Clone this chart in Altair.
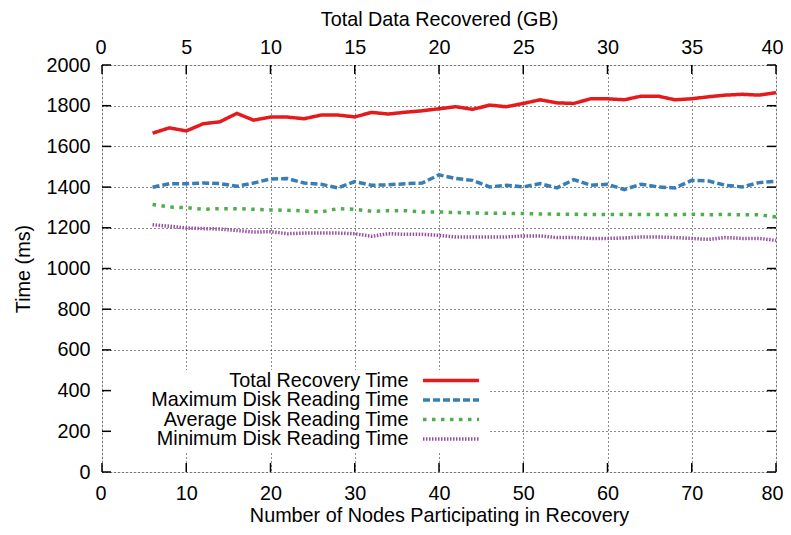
import altair as alt
import pandas as pd

# ---------------- data ----------------
nodes = [6, 8, 10, 12, 14, 16, 18, 20, 22, 24, 26, 28, 30, 32, 34, 36, 38, 40,
         42, 44, 46, 48, 50, 52, 54, 56, 58, 60, 62, 64, 66, 68, 70, 72, 74, 76, 78, 80]

total_recovery = [1665, 1691, 1676, 1711, 1721, 1762, 1729, 1744, 1744, 1736, 1754, 1754, 1745, 1767, 1759, 1768, 1775, 1785,
                  1795, 1782, 1803, 1795, 1811, 1829, 1814, 1811, 1834, 1834, 1829, 1847, 1847, 1829, 1834, 1844, 1852, 1856, 1852, 1864]
max_disk = [1399, 1417, 1417, 1420, 1417, 1404, 1420, 1440, 1442, 1420, 1414, 1396, 1427, 1409, 1411, 1417, 1420, 1460,
            1442, 1433, 1401, 1409, 1401, 1417, 1396, 1437, 1409, 1414, 1388, 1414, 1401, 1396, 1433, 1430, 1409, 1401, 1422, 1429]
avg_disk = [1315, 1302, 1299, 1291, 1294, 1294, 1291, 1288, 1286, 1283, 1278, 1294, 1291, 1281, 1284, 1284, 1278, 1278,
            1275, 1273, 1271, 1271, 1270, 1268, 1267, 1267, 1265, 1265, 1266, 1265, 1265, 1264, 1267, 1264, 1266, 1264, 1264, 1253]
min_disk = [1215, 1208, 1199, 1196, 1194, 1187, 1179, 1181, 1171, 1174, 1174, 1174, 1171, 1158, 1171, 1168, 1168, 1163,
            1155, 1155, 1155, 1155, 1160, 1160, 1152, 1152, 1148, 1148, 1150, 1155, 1155, 1152, 1148, 1143, 1152, 1148, 1148, 1138]

series_names = ["Total Recovery Time", "Maximum Disk Reading Time",
                "Average Disk Reading Time", "Minimum Disk Reading Time"]
series_values = [total_recovery, max_disk, avg_disk, min_disk]

x_ticks = [0, 10, 20, 30, 40, 50, 60, 70, 80]
x2_ticks = [0, 5, 10, 15, 20, 25, 30, 35, 40]
y_ticks = [0, 200, 400, 600, 800, 1000, 1200, 1400, 1600, 1800, 2000]

# ---------------- styling ----------------
colors = ["#e41a1c", "#377eb8", "#4daf4a", "#984ea3"]
dashes = [[1, 0], [7, 3], [3.5, 5.5], [1.5, 1.5]]
W, H = 674, 407
FONT = "Liberation Sans"
FS = 19.8

rows = []
for name, vals in zip(series_names, series_values):
    for n, v in zip(nodes, vals):
        rows.append({"nodes": n, "time": v, "series": name})
df = pd.DataFrame(rows)

color_scale = alt.Scale(domain=series_names, range=colors)
dash_scale = alt.Scale(domain=series_names, range=dashes)


def xs():
    return alt.Scale(domain=[0, 80], nice=False, zero=False)


def ys():
    return alt.Scale(domain=[0, 2000], nice=False, zero=False)


common_axis = dict(domain=False, ticks=False, labelFont=FONT, titleFont=FONT,
                   labelFontSize=FS, titleFontSize=FS, labelColor="black",
                   titleColor="black", titleFontWeight="normal",
                   labelOverlap=False, format="d")

x_axis = alt.Axis(values=x_ticks, title="Number of Nodes Participating in Recovery",
                  grid=True, gridDash=[1, 3], gridColor="black", gridWidth=1, gridOpacity=0.9,
                  labelPadding=11, titlePadding=3, labelFlush=True, labelFlushOffset=7,
                  **common_axis)
y_axis = alt.Axis(values=y_ticks, title="Time (ms)",
                  grid=True, gridDash=[1, 3], gridColor="black", gridWidth=1, gridOpacity=0.9,
                  labelPadding=12, titlePadding=12, labelFlush=False, **common_axis)
top_axis = alt.Axis(orient="top", values=x2_ticks, title="Total Data Recovered (GB)",
                    grid=False, labelPadding=8, titlePadding=8, labelFlush=True,
                    labelFlushOffset=7, **common_axis)

lines = alt.Chart(df).mark_line(strokeWidth=3.5, strokeCap="butt").encode(
    x=alt.X("nodes:Q", scale=xs(), axis=x_axis),
    y=alt.Y("time:Q", scale=ys(), axis=y_axis),
    color=alt.Color("series:N", scale=color_scale, legend=None),
    strokeDash=alt.StrokeDash("series:N", scale=dash_scale, legend=None),
)

box = alt.Chart(pd.DataFrame({"k": [0]})).mark_rect(fill="white").encode(
    x=alt.value(2), x2=alt.value(387), y=alt.value(305), y2=alt.value(388)
)

xt_df = pd.DataFrame({"nodes": x_ticks})
yt_df = pd.DataFrame({"time": y_ticks})

bottom_ticks = alt.Chart(xt_df).mark_rule(color="black", strokeWidth=1.5).encode(
    x=alt.X("nodes:Q", scale=xs(), axis=None), y=alt.value(H), y2=alt.value(H - 9)
)
left_ticks = alt.Chart(yt_df).mark_rule(color="black", strokeWidth=1.5).encode(
    y=alt.Y("time:Q", scale=ys(), axis=None), x=alt.value(0), x2=alt.value(9)
)
right_ticks = alt.Chart(yt_df).mark_rule(color="black", strokeWidth=1.5).encode(
    y=alt.Y("time:Q", scale=ys(), axis=None), x=alt.value(W), x2=alt.value(W - 9)
)
top_ticks = alt.Chart(pd.DataFrame({"gb": x2_ticks})).mark_rule(color="black", strokeWidth=1.5).encode(
    x=alt.X("gb:Q", scale=alt.Scale(domain=[0, 40], nice=False, zero=False), axis=top_axis),
    y=alt.value(0), y2=alt.value(9)
)

leg_df = pd.DataFrame({"series": series_names})


def leg_y():
    return alt.Y("series:N", scale=alt.Scale(type="point", domain=series_names,
                                             range=[315.5, 374], padding=0), axis=None)


leg_text = alt.Chart(leg_df).mark_text(align="right", baseline="middle", font=FONT,
                                       fontSize=FS, color="black").encode(
    x=alt.value(306.5), y=leg_y(), text="series:N"
)
leg_lines = alt.Chart(leg_df).mark_rule(strokeWidth=3.5, strokeCap="butt").encode(
    x=alt.value(321), x2=alt.value(377), y=leg_y(),
    color=alt.Color("series:N", scale=color_scale, legend=None),
    strokeDash=alt.StrokeDash("series:N", scale=dash_scale, legend=None),
)

chart = alt.layer(
    lines, box, bottom_ticks, left_ticks, right_ticks, top_ticks, leg_text, leg_lines
).resolve_scale(
    x="independent", y="independent"
).properties(
    width=W, height=H,
    padding={"left": 94, "top": 57, "right": 7, "bottom": 55},
    autosize=alt.AutoSizeParams(type="none"),
).configure_view(stroke="black", strokeWidth=2).configure(font=FONT)

chart.save("out.html", embed_options={"renderer": "svg", "actions": False})
